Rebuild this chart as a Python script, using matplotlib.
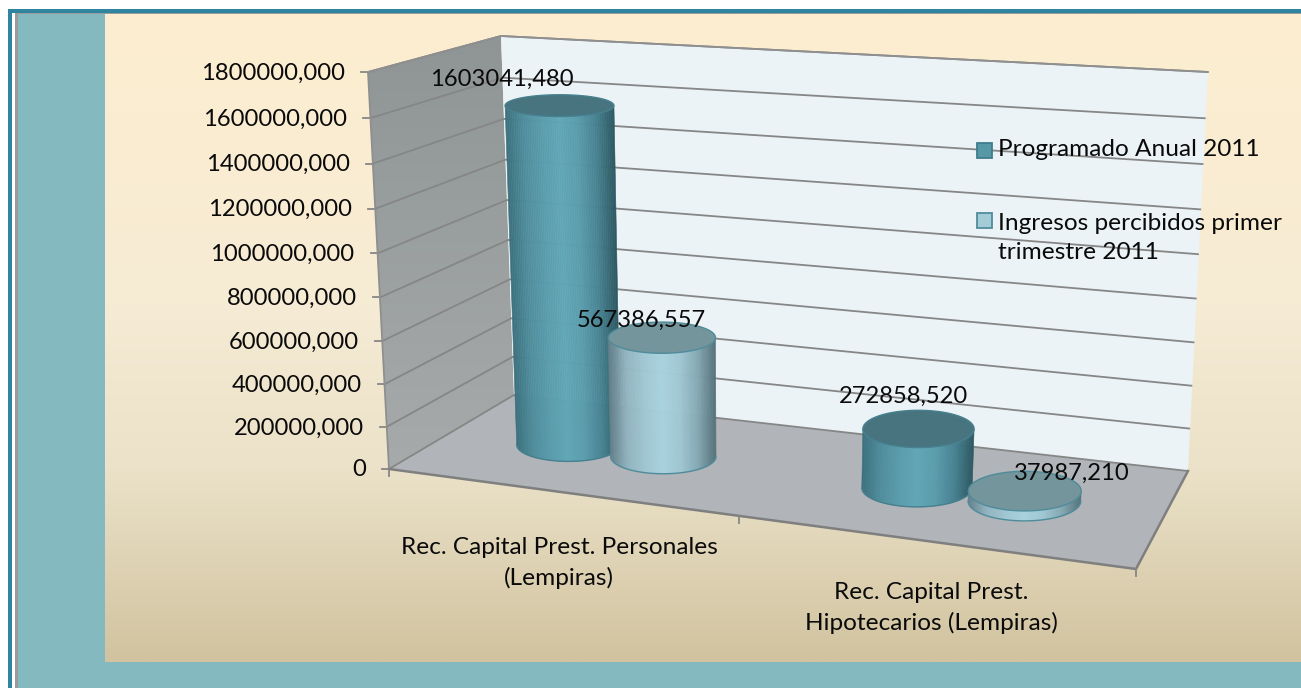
import numpy as np
import matplotlib
matplotlib.use("Agg")
import matplotlib.pyplot as plt
from matplotlib.patches import Polygon, Rectangle
from matplotlib.collections import PolyCollection
from matplotlib.colors import LinearSegmentedColormap

# ---------- data ----------
categories = ["Rec. Capital Prest. Personales\n(Lempiras)",
              "Rec. Capital Prest.\nHipotecarios (Lempiras)"]
series_names = ["Programado Anual 2011",
                "Ingresos percibidos primer\ntrimestre 2011"]
programado = [1603041.480, 272858.520]
ingresos = [567386.557, 37987.210]
y_ticks = [0, 200000, 400000, 600000, 800000, 1000000, 1200000, 1400000, 1600000, 1800000]
y_tick_labels = ["0", "200000,000", "400000,000", "600000,000", "800000,000",
                 "1000000,000", "1200000,000", "1400000,000", "1600000,000", "1800000,000"]
value_labels = [["1603041,480", "272858,520"], ["567386,557", "37987,210"]]

# ---------- layout / style ----------
W, H = 1301, 688
VMAX = 1800000
FONT = "Lato"
FS = 17.1
FS_CAT = 17.6
# pixel corners of the projected 3D box (x, depth, value)
FL0, FR0, BL0, BR0 = (389, 469), (1136, 569), (514, 395), (1188, 471)
FL1, FR1, BL1, BR1 = (368, 72), (1166, 169), (501, 36), (1208, 72)
CORNERS = np.array([[[FL0, FL1], [BL0, BL1]], [[FR0, FR1], [BR0, BR1]]], float)
DEPTH_C, R_X, R_D = 0.52, 0.143, 0.20
CAP_LIFT = 2
BAR_OFFSETS = [-0.14, 0.145]
LABEL_SHIFT = [[(-58, -26), (-15, -33)], [(-21, -17), (47, -18)]]
BODY = [
    dict(stops=["#3c707e", "#4f8d9c", "#5a9cac", "#61a7b7", "#5a9cac", "#478292", "#2d5862"],
         cap="#47747f", edge="#47808e"),
    dict(stops=["#64808a", "#92b4c0", "#a0c7d3", "#a8d2df", "#a0c7d3", "#85a9b3", "#56727b"],
         cap="#73959b", edge="#4f8c9b"),
]


def warp(x):
    t = np.asarray(x, float) / len(categories)
    return t * (1 + 0.125 * (t - 1))


def warp_value(v):
    s = 1 - np.asarray(v, float) / VMAX
    return 1 - s * (1 + 0.05 * (1 - s))


def project(x, d, v):
    """Category coord x, depth d (0 front..1 back), value v -> pixel position."""
    u, d, w = warp(x), np.asarray(d, float), warp_value(v)
    c = CORNERS
    res = []
    for k in (0, 1):
        a = c[0, 0, 0, k] * (1 - w) + c[0, 0, 1, k] * w
        b = c[0, 1, 0, k] * (1 - w) + c[0, 1, 1, k] * w
        e = c[1, 0, 0, k] * (1 - w) + c[1, 0, 1, k] * w
        f = c[1, 1, 0, k] * (1 - w) + c[1, 1, 1, k] * w
        res.append((a * (1 - d) + b * d) * (1 - u) + (e * (1 - d) + f * d) * u)
    return res[0], res[1]


def gradient_fill(ax, poly, top, bottom, z):
    y0, y1 = poly[:, 1].min(), poly[:, 1].max()
    x0, x1 = poly[:, 0].min(), poly[:, 0].max()
    cm = LinearSegmentedColormap.from_list("g", [top, bottom])
    im = ax.imshow(np.linspace(0, 1, 256).reshape(-1, 1), cmap=cm, extent=(x0, x1, y1, y0),
                   aspect="auto", zorder=z, interpolation="bilinear")
    im.set_clip_path(Polygon(poly, closed=True, transform=ax.transData))


fig = plt.figure(figsize=(W / 100, H / 100), dpi=100, facecolor="white")
ax = fig.add_axes([0, 0, 1, 1])
ax.set_xlim(0, W)
ax.set_ylim(H, 0)
ax.axis("off")

# frame
ax.add_patch(Rectangle((8, 9), W - 8, H - 9, fc="#2f84a0", ec="none", zorder=0))
ax.add_patch(Rectangle((12, 13), W - 12, H - 13, fc="white", ec="none", zorder=0.1))
ax.add_patch(Rectangle((15, 13), W - 15, H - 13, fc="#9a9a9a", ec="none", zorder=0.2))
ax.add_patch(Rectangle((18, 14), W - 18, H - 14, fc="#84b9bf", ec="none", zorder=0.3))
cm_bg = LinearSegmentedColormap.from_list(
    "bg", [(0, "#fdeed0"), (0.45, "#f6ebd4"), (0.7, "#ebe2c9"), (1, "#d1c39f")])
ax.imshow(np.linspace(0, 1, 256).reshape(-1, 1), cmap=cm_bg, extent=(105, W, 662, 14),
          aspect="auto", zorder=0.5)

# walls and floor
XN = len(categories)
left_wall = np.array([project(0, 0, 0), project(0, 1, 0), project(0, 1, VMAX), project(0, 0, VMAX)])
back_wall = np.array([project(0, 1, 0), project(XN, 1, 0), project(XN, 1, VMAX), project(0, 1, VMAX)])
floor = np.array([project(0, 0, 0), project(XN, 0, 0), project(XN, 1, 0), project(0, 1, 0)])
gradient_fill(ax, left_wall, "#8f9595", "#a7aaaa", 1)
ax.add_patch(Polygon(back_wall, fc="#ebf3f6", ec="none", zorder=1))
ax.add_patch(Polygon(floor, fc="#b1b4b8", ec="none", zorder=1.2))
GRID = "#868686"
for v in y_ticks:
    pts = np.array([project(0, 0, v), project(0, 1, v), project(XN, 1, v)])
    ax.plot(pts[:, 0], pts[:, 1], color=GRID, lw=1.3, zorder=1.5, solid_capstyle="butt")
    px, py = pts[0]
    ax.plot([px - 7, px], [py, py], color=GRID, lw=1.3, zorder=1.5)
# axis edges
edge = np.array([project(0, 0, 0), project(0, 0, VMAX), project(0, 1, VMAX), project(XN, 1, VMAX)])
ax.plot(edge[:, 0], edge[:, 1], color="#8f8f8f", lw=1.3, zorder=1.6)
front = np.array([project(0, 0, 0), project(XN, 0, 0), project(XN, 1, 0)])
ax.plot(front[:, 0], front[:, 1], color="#7f7f7f", lw=1.8, zorder=1.6)
for i in range(XN + 1):
    px, py = project(i, 0, 0)
    ax.plot([px, px], [py, py + 7], color=GRID, lw=1.3, zorder=1.6)
for v, lab in zip(y_ticks, y_tick_labels):
    px, py = project(0, 0, v)
    ax.text(px - 23, py + 1, lab, ha="right", va="center", family=FONT, fontsize=FS,
            color="#0a0a0a", zorder=5)


def ring(xc, val):
    """Upright screen ellipse fitted to the projected circle at height val."""
    phi = np.linspace(0, 2 * np.pi, 361)
    px, py = project(xc + R_X * np.cos(phi), DEPTH_C + R_D * np.sin(phi), val + 0 * phi)
    cx, cy = (px.max() + px.min()) / 2, (py.max() + py.min()) / 2
    return cx, cy, np.ptp(px) / 2, np.ptp(py) / 2


def cylinder(xc, val, style, z):
    bcx, bcy, ba, bb = ring(xc, 0)
    tcx, tcy, ta, tb = ring(xc, val)
    tcy -= CAP_LIFT
    # strips of equal screen width across the front half, left to right
    f = np.linspace(-1, 1, 61)
    root = np.sqrt(1 - f ** 2)
    sbx, sby = bcx + ba * f, bcy + bb * root
    stx, sty = tcx + ta * f, tcy + tb * root
    cm = LinearSegmentedColormap.from_list("c", style["stops"])
    quads, cols = [], []
    for i in range(len(f) - 1):
        quads.append([(stx[i], sty[i]), (stx[i + 1], sty[i + 1]),
                      (sbx[i + 1], sby[i + 1]), (sbx[i], sby[i])])
        cols.append(cm(0.5 * (1 + (f[i] + f[i + 1]) / 2)))
    pc = PolyCollection(quads, facecolors=cols, edgecolors=cols, linewidths=0.4, zorder=z)
    pc.set_snap(False)
    ax.add_collection(pc)
    g = np.linspace(0, np.pi, 121)
    ax.plot(bcx - ba * np.cos(g), bcy + bb * np.sin(g), color=style["edge"], lw=1.0,
            zorder=z + 0.01, snap=False)
    full = np.linspace(0, 2 * np.pi, 181)
    ax.add_patch(Polygon(np.c_[tcx + ta * np.cos(full), tcy + tb * np.sin(full)],
                         fc=style["cap"], ec=style["edge"], lw=1.0, zorder=z + 0.02, snap=False))
    return float(tcx), float(tcy)


# bars, back to front
z = 2.0
for s, c in [(0, 0), (1, 0), (0, 1), (1, 1)]:
    val = [programado, ingresos][s][c]
    cx, cy = cylinder(c + 0.5 + BAR_OFFSETS[s], val, BODY[s], z)
    dx, dy = LABEL_SHIFT[s][c]
    ax.text(cx + dx, cy + dy, value_labels[s][c], ha="center", va="center", family=FONT,
            fontsize=FS, color="#0a0a0a", zorder=6)
    z += 0.1

# category labels
ax.text(559, 563, categories[0], ha="center", va="center", family=FONT, fontsize=FS_CAT,
        linespacing=1.5, color="#0a0a0a", zorder=6)
ax.text(931, 608, categories[1], ha="center", va="center", family=FONT, fontsize=FS_CAT,
        linespacing=1.5, color="#0a0a0a", zorder=6)

# legend
swatches = [("#5798a7", "#3f7c8c", 143), ("#a3ccd7", "#4f8c9b", 213)]
text_y = [150, 238]
for (fc, ec, y), name, ty in zip(swatches, series_names, text_y):
    ax.add_patch(Rectangle((976.5, y), 15, 15, fc=fc, ec=ec, lw=1.3, zorder=6))
    ax.text(998, ty, name, ha="left", va="center", family=FONT, fontsize=FS_CAT,
            linespacing=1.5, color="#0a0a0a", zorder=6)

ax.set_xlim(0, W)
ax.set_ylim(H, 0)
fig.savefig("out.png", dpi=100, facecolor="white")
